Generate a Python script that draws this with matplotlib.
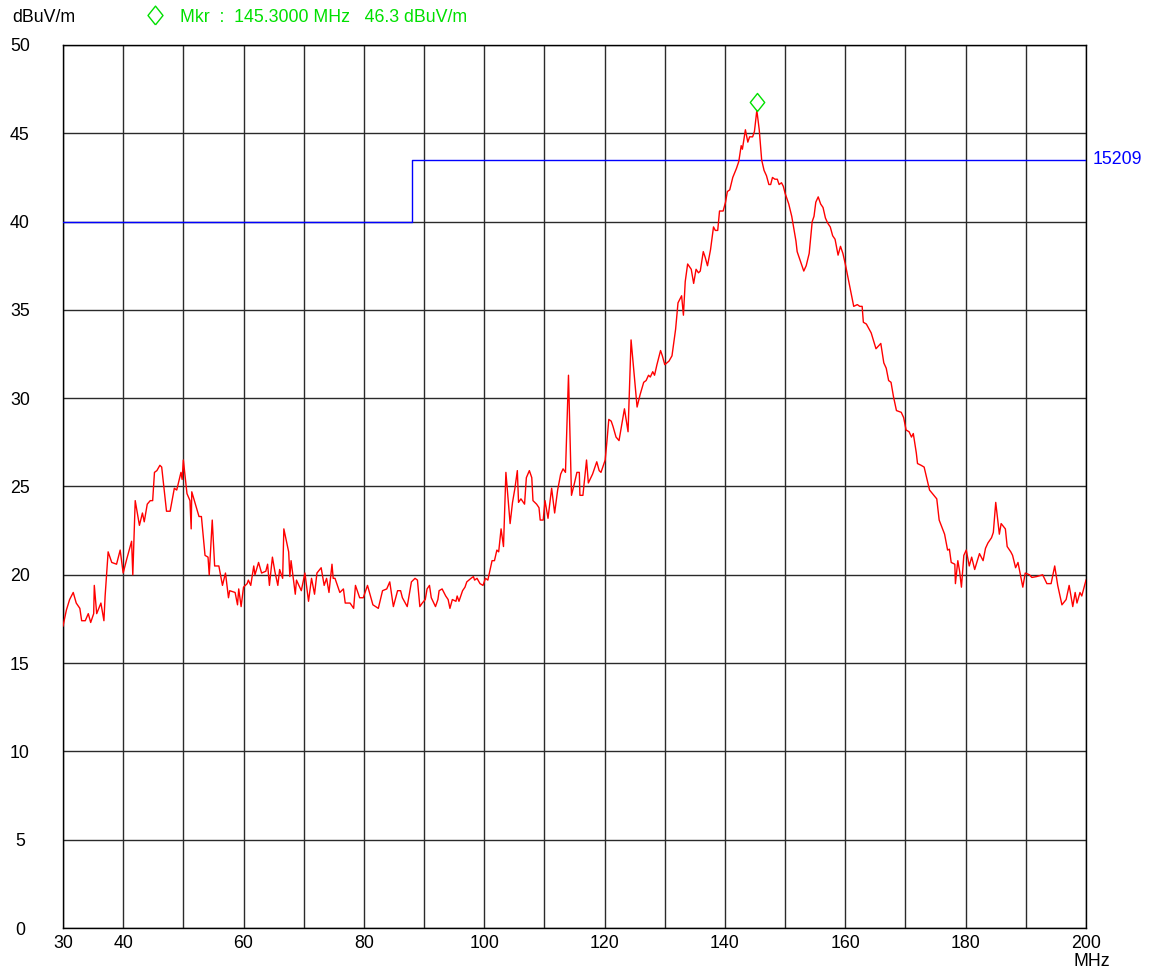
import matplotlib
matplotlib.use("Agg")
import matplotlib.pyplot as plt
import matplotlib.transforms as mtransforms
from matplotlib.lines import Line2D

# ---- data ----
freq_mhz = [30.0, 30.56, 31.1, 31.7, 32.2, 32.8, 33.1, 33.7, 34.2, 34.6, 35.1, 35.2, 35.6, 36.3, 36.8, 37.0,
            37.5, 38.1, 38.9, 39.5, 40.0, 40.6, 41.4, 41.6, 42.0, 42.7, 43.2, 43.5, 44.0, 44.5, 44.9, 45.2,
            45.6, 46.1, 46.4, 47.2, 47.8, 48.5, 48.9, 49.6, 49.8, 50.0, 50.6, 51.1, 51.3, 51.4, 52.0, 52.6,
            53.0, 53.6, 54.1, 54.3, 54.8, 55.2, 55.9, 56.5, 57.0, 57.5, 57.7, 58.6, 59.0, 59.2, 59.6, 60.0,
            60.6, 60.8, 61.2, 61.7, 61.9, 62.5, 63.0, 63.7, 64.0, 64.3, 64.8, 65.2, 65.7, 66.0, 66.5, 66.7,
            67.5, 67.7, 67.9, 68.6, 68.8, 69.6, 70.2, 70.8, 71.3, 71.8, 72.2, 72.9, 73.4, 73.8, 74.2, 74.7,
            74.9, 75.2, 76.0, 76.6, 76.9, 77.7, 78.3, 78.6, 79.3, 79.9, 80.6, 81.5, 82.4, 83.1, 83.8, 84.3,
            84.9, 85.6, 86.1, 86.4, 87.2, 87.9, 88.5, 88.9, 89.3, 89.7, 90.2, 90.5, 90.9, 91.2, 91.9, 92.3,
            92.5, 93.0, 93.6, 94.0, 94.3, 94.7, 95.3, 95.5, 95.8, 96.4, 96.8, 97.1, 97.8, 98.2, 98.4, 98.8,
            99.3, 99.8, 100.2, 100.6, 101.3, 101.7, 102.1, 102.4, 102.8, 103.2, 103.6, 104.3, 104.7, 105.1,
            105.5, 105.7, 106.1, 106.7, 107.0, 107.5, 107.9, 108.1, 108.7, 109.1, 109.3, 109.8, 110.1, 110.6,
            111.2, 111.7, 112.2, 112.7, 113.1, 113.5, 114.0, 114.5, 115.0, 115.4, 115.8, 115.9, 116.4, 117.0,
            117.3, 118.0, 118.7, 119.1, 119.4, 120.1, 120.4, 120.7, 121.1, 121.4, 121.9, 122.4, 123.3, 123.9,
            124.4, 125.4, 125.9, 126.5, 126.9, 127.3, 127.6, 128.0, 128.3, 128.7, 129.3, 129.6, 130.0, 130.7,
            131.2, 131.8, 132.2, 132.8, 133.1, 133.4, 133.8, 134.4, 134.8, 135.2, 135.6, 135.9, 136.4, 136.7,
            137.1, 137.6, 138.1, 138.4, 138.8, 139.1, 139.7, 140.1, 140.4, 140.8, 141.3, 141.9, 142.3, 142.7,
            142.9, 143.4, 143.8, 144.1, 144.6, 144.9, 145.3, 145.7, 146.1, 146.5, 146.9, 147.3, 147.6, 147.9,
            148.3, 148.7, 149.0, 149.4, 149.7, 150.0, 150.6, 151.1, 151.5, 151.8, 152.0, 152.4, 153.1, 153.5,
            154.0, 154.5, 154.8, 155.1, 155.5, 155.9, 156.3, 156.7, 157.1, 157.5, 157.9, 158.3, 158.8, 159.2,
            159.6, 160.0, 160.7, 161.4, 162.0, 162.4, 162.8, 163.0, 163.5, 164.3, 165.1, 165.9, 166.4, 166.8,
            167.2, 167.6, 168.0, 168.5, 169.3, 169.7, 170.1, 170.6, 171.0, 171.3, 171.8, 172.0, 172.6, 173.1,
            174.0, 175.2, 175.6, 176.5, 177.0, 177.3, 177.6, 178.2, 178.3, 178.7, 179.0, 179.3, 179.7, 180.1,
            180.6, 181.0, 181.5, 182.3, 182.9, 183.3, 183.7, 184.3, 184.6, 185.0, 185.6, 185.9, 186.6, 186.9,
            187.5, 187.8, 188.3, 188.7, 189.1, 189.5, 189.9, 190.6, 191.0, 191.8, 192.3, 192.8, 193.5, 194.2,
            194.8, 195.3, 196.0, 196.7, 197.2, 197.8, 198.2, 198.5, 199.0, 199.3, 200.0]
level_dbuv = [17.1, 18.0, 18.6, 19.0, 18.4, 18.1, 17.4, 17.4, 17.8, 17.3, 17.8, 19.4, 17.8, 18.4, 17.4, 18.8,
              21.3, 20.7, 20.6, 21.4, 20.1, 20.9, 21.9, 20.0, 24.2, 22.8, 23.5, 23.0, 24.0, 24.2, 24.2, 25.8,
              25.9, 26.2, 26.1, 23.6, 23.6, 24.9, 24.8, 25.8, 25.4, 26.5, 24.6, 24.2, 22.6, 24.7, 24.0, 23.3,
              23.3, 21.1, 21.0, 20.0, 23.1, 20.5, 20.5, 19.4, 20.1, 18.7, 19.1, 19.0, 18.3, 19.2, 18.2, 19.3,
              19.5, 19.7, 19.4, 20.5, 20.0, 20.7, 20.1, 20.2, 20.6, 19.4, 21.0, 20.2, 19.4, 20.3, 19.8, 22.6,
              21.3, 19.9, 20.8, 18.9, 19.7, 19.1, 20.1, 18.5, 19.8, 18.9, 20.1, 20.4, 19.4, 19.8, 19.0, 20.6,
              19.8, 19.8, 19.0, 19.2, 18.4, 18.4, 18.1, 19.4, 18.7, 18.7, 19.4, 18.3, 18.1, 19.1, 19.2, 19.6,
              18.2, 19.1, 19.1, 18.7, 18.2, 19.6, 19.8, 19.7, 18.2, 18.4, 18.6, 19.2, 19.4, 18.7, 18.2, 18.6,
              19.1, 19.2, 18.8, 18.6, 18.1, 18.6, 18.5, 18.8, 18.5, 19.1, 19.3, 19.6, 19.8, 19.9, 19.7, 19.8,
              19.5, 19.4, 19.8, 19.7, 20.8, 20.8, 21.4, 21.3, 22.6, 21.6, 25.8, 22.9, 24.1, 24.9,
              25.9, 24.1, 24.3, 24.0, 25.5, 25.9, 25.5, 24.2, 24.0, 23.8, 23.1, 23.1, 24.2, 23.2,
              24.9, 23.5, 24.8, 25.7, 26.0, 25.8, 31.3, 24.5, 25.2, 25.8, 25.8, 24.5, 24.5, 26.5,
              25.2, 25.7, 26.4, 25.9, 25.8, 26.5, 27.6, 28.8, 28.7, 28.4, 27.8, 27.6, 29.4, 28.1,
              33.3, 29.5, 30.2, 30.9, 31.0, 31.3, 31.2, 31.5, 31.3, 31.9, 32.7, 32.4, 31.9, 32.1,
              32.4, 33.9, 35.4, 35.8, 34.7, 36.6, 37.6, 37.3, 36.5, 37.3, 37.1, 37.2, 38.3, 38.0,
              37.5, 38.4, 39.7, 39.5, 39.5, 40.6, 40.6, 41.1, 41.7, 41.8, 42.5, 43.0, 43.4, 44.3,
              44.1, 45.2, 44.5, 44.8, 44.8, 45.1, 46.3, 45.2, 43.5, 42.9, 42.6, 42.1, 42.1, 42.5,
              42.4, 42.4, 42.1, 42.2, 42.0, 41.6, 41.0, 40.3, 39.5, 38.9, 38.3, 37.9, 37.2, 37.5,
              38.2, 40.0, 40.3, 41.1, 41.4, 41.0, 40.8, 40.2, 39.9, 39.7, 39.2, 39.0, 38.1, 38.6,
              38.2, 37.6, 36.4, 35.2, 35.3, 35.2, 35.2, 34.3, 34.2, 33.7, 32.8, 33.1, 32.0, 31.7,
              31.0, 30.9, 30.1, 29.3, 29.2, 28.9, 28.2, 28.1, 27.8, 28.0, 26.9, 26.3, 26.2, 26.1,
              24.8, 24.3, 23.1, 22.3, 21.4, 21.45, 20.7, 20.6, 19.5, 20.8, 20.2, 19.3, 21.1, 21.4,
              20.5, 21.0, 20.3, 21.2, 20.8, 21.5, 21.8, 22.1, 22.4, 24.1, 22.3, 22.9, 22.6, 21.6,
              21.3, 21.1, 20.4, 20.7, 20.0, 19.3, 20.1, 20.0, 19.85, 19.9, 19.95, 20.0, 19.5, 19.5,
              20.5, 19.4, 18.3, 18.6, 19.4, 18.2, 19.0, 18.4, 19.0, 18.8, 19.7]

limit_freq = [30, 88, 88, 200]
limit_level = [40, 40, 43.5, 43.5]
limit_name = "15209"

marker_freq = 145.3
marker_level = 46.3

x_ticks = [30, 40, 50, 60, 70, 80, 90, 100, 110, 120, 130, 140, 150, 160, 170, 180, 190, 200]
x_tick_labels = ["30", "40", "", "60", "", "80", "", "100", "", "120", "", "140", "", "160", "", "180", "", "200"]
y_ticks = [0, 5, 10, 15, 20, 25, 30, 35, 40, 45, 50]

FONT = ["Liberation Sans", "DejaVu Sans"]
plt.rcParams["font.family"] = FONT
GREEN = "#00e000"
FS = 12.8
DIAMOND = [(0, -1), (0.8, 0), (0, 1), (-0.8, 0), (0, -1)]

fig = plt.figure(figsize=(11.51, 9.71), dpi=100)
ax = fig.add_axes([63 / 1151, 1 - 928 / 971, (1086 - 63) / 1151, (928 - 45) / 971])

ax.set_xlim(30, 200)
ax.set_ylim(0, 50)
ax.set_xticks(x_ticks)
ax.set_xticklabels(x_tick_labels)
ax.set_yticks(y_ticks)
ax.set_yticklabels([str(v) for v in y_ticks])
ax.tick_params(axis="both", length=0, labelsize=FS, colors="black")
ax.tick_params(axis="x", pad=5)
ax.tick_params(axis="y", pad=31)
for lbl in ax.get_yticklabels():
    lbl.set_horizontalalignment("center")
ax.grid(True, color="#2a2a2a", linewidth=1.0)
ax.set_axisbelow(True)
for sp in ax.spines.values():
    sp.set_color("black")
    sp.set_linewidth(1.0)

ax.plot(limit_freq, limit_level, color="#0000ff", linewidth=1.0, zorder=3)
ax.plot(freq_mhz, level_dbuv, color="#ff0000", linewidth=1.0, zorder=4)

off = mtransforms.offset_copy(ax.transData, fig=fig, x=0, y=8, units="dots")
ax.plot([marker_freq], [marker_level], marker=DIAMOND, markersize=13, markerfacecolor="none",
        markeredgecolor=GREEN, markeredgewidth=1.0, transform=off, zorder=5, clip_on=False)

ax.text(1.006, limit_level[-1], limit_name, transform=ax.get_yaxis_transform(), color="#0000ff",
        fontsize=FS, ha="left", va="center")

fig.text(12 / 1151, 1 - 18 / 971, "dBuV/m", fontsize=FS, ha="left", va="center", color="black")
fig.add_artist(Line2D([155 / 1151], [1 - 15 / 971], transform=fig.transFigure, marker=DIAMOND,
                      markersize=13.5, markerfacecolor="none", markeredgecolor=GREEN,
                      markeredgewidth=1.0, linestyle="none"))
fig.text(180 / 1151, 1 - 18 / 971, "Mkr  :  %.4f MHz   %.1f dBuV/m" % (marker_freq, marker_level),
         fontsize=FS, ha="left", va="center", color=GREEN)
fig.text(1092 / 1151, 1 - 961 / 971, "MHz", fontsize=FS, ha="center", va="center", color="black")

fig.savefig("out.png", dpi=100)
